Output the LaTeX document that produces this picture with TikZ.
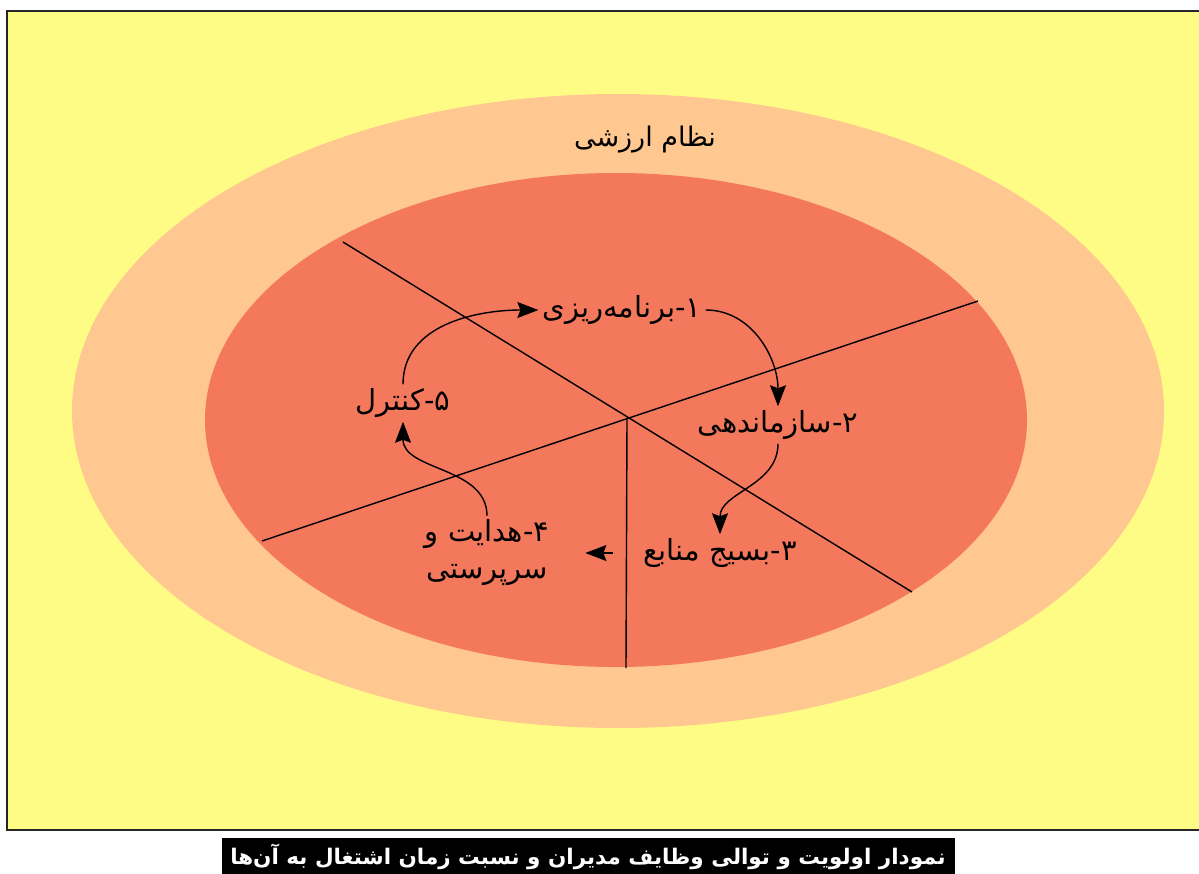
\documentclass[tikz,border=0pt]{standalone}
\usepackage{fontspec}
\usetikzlibrary{arrows.meta}
\TeXXeTstate=1
\newfontfamily\farsi[Script=Arabic]{DejaVu Sans}
\definecolor{bgyellow}{HTML}{FFFC85}
\definecolor{valpeach}{HTML}{FFC891}
\definecolor{funcred}{HTML}{F4785C}

\tikzset{
  stagelabel/.style={font=\farsi\fontsize{29}{37}\selectfont,inner sep=4pt,align=center},
  cyclearrow/.style={-{Stealth[length=21pt,width=16pt,inset=3pt]},line width=1.4pt}
}

\begin{document}
\begin{tikzpicture}[x=1pt,y=-1pt]
  \useasboundingbox (0,0) rectangle (1199,873);
  \fill[white] (0,0) rectangle (1199,873);
  \fill[bgyellow] (7,11) rectangle (1205,830);
  \draw[line width=2pt,black!85] (1205,11) -- (7,11) -- (7,830) -- (1205,830);
  \fill[valpeach] (618,411) ellipse[x radius=546pt,y radius=317pt];
  \fill[funcred] (616,420) ellipse[x radius=411pt,y radius=247pt];
  \coordinate (hub) at (627,418);
  \draw[line width=1.4pt] (343,242) -- (912,592);
  \draw[line width=1.4pt] (262,541) -- (978,301);
  \draw[line width=1.4pt] (hub) -- (626,668);

  \node[stagelabel,font=\farsi\fontsize{27}{34}\selectfont] (nezam) at (645,140) {\beginR نظام ارزشی\endR};
  \node[stagelabel] (barname) at (622,310) {\beginR ۱-برنامه‌ریزی\endR};
  \node[stagelabel] (sazman) at (778,425) {\beginR ۲-سازماندهی\endR};
  \node[stagelabel] (basij) at (720,553) {\beginR ۳-بسیج منابع\endR};
  \node[stagelabel] (hedayat) at (487,553) {\beginR ۴-هدایت و\endR\\\beginR سرپرستی\endR};
  \node[stagelabel] (kontrol) at (403,403) {\beginR ۵-کنترل\endR};

  \draw[cyclearrow] (kontrol.north) to[out=90,in=180] (barname.west);
  \draw[cyclearrow] (barname.east) to[out=0,in=90] (sazman.north);
  \draw[cyclearrow] (sazman.south) to[out=-90,in=90] (basij.north);
  \draw[cyclearrow,shorten <=26pt,shorten >=32pt] (basij.west) -- (hedayat.east);
  \draw[cyclearrow] (hedayat.north) to[out=90,in=-90] (kontrol.south);

  \fill[black] (222,838) rectangle (955,880);
  \node[font=\farsi\bfseries\fontsize{21.5}{24}\selectfont,text=white] (caption) at (588,857)
    {\beginR نمودار اولویت و توالی وظایف مدیران و نسبت زمان اشتغال به آن‌ها\endR};
\end{tikzpicture}
\end{document}
